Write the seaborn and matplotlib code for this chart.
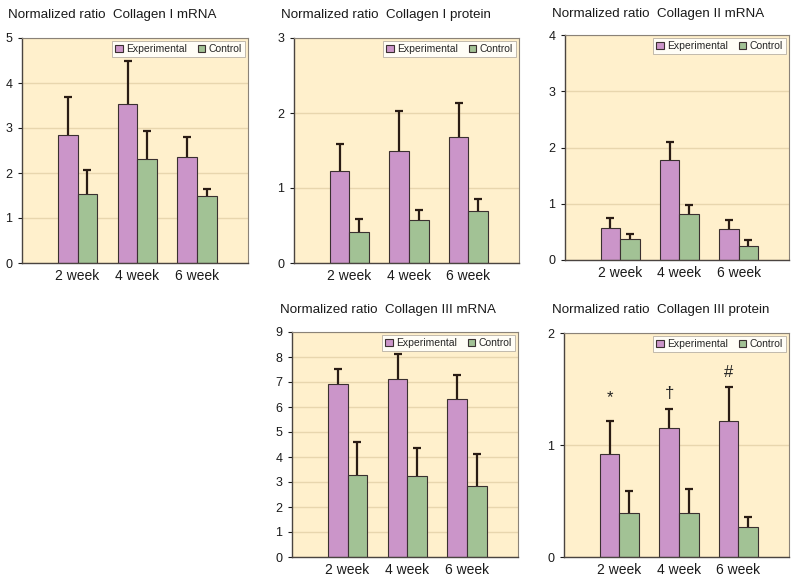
import matplotlib
matplotlib.use("Agg")
import matplotlib.pyplot as plt
import numpy as np
import pandas as pd
import seaborn as sns

# --- data (upper error bar = SD) ---
weeks = ["2 week", "4 week", "6 week"]
groups = ["Experimental", "Control"]

col1_mrna_exp = [2.84, 3.54, 2.35]
col1_mrna_exp_sd = [0.85, 0.94, 0.45]
col1_mrna_ctl = [1.54, 2.31, 1.48]
col1_mrna_ctl_sd = [0.52, 0.63, 0.16]

col1_prot_exp = [1.23, 1.50, 1.68]
col1_prot_exp_sd = [0.36, 0.53, 0.45]
col1_prot_ctl = [0.42, 0.57, 0.70]
col1_prot_ctl_sd = [0.17, 0.14, 0.15]

col2_mrna_exp = [0.57, 1.78, 0.55]
col2_mrna_exp_sd = [0.17, 0.32, 0.17]
col2_mrna_ctl = [0.38, 0.82, 0.25]
col2_mrna_ctl_sd = [0.09, 0.15, 0.10]

col3_mrna_exp = [6.93, 7.12, 6.33]
col3_mrna_exp_sd = [0.58, 0.99, 0.96]
col3_mrna_ctl = [3.29, 3.24, 2.83]
col3_mrna_ctl_sd = [1.30, 1.13, 1.30]

col3_prot_exp = [0.92, 1.15, 1.21]
col3_prot_exp_sd = [0.29, 0.17, 0.31]
col3_prot_ctl = [0.39, 0.39, 0.27]
col3_prot_ctl_sd = [0.20, 0.22, 0.09]

# significance marks over the Experimental bars of Collagen III protein
sig_marks = ["*", "\u2020", "#"]
sig_y = [1.36, 1.39, 1.58]

titles = [
    "Normalized ratio  Collagen I mRNA",
    "Normalized ratio  Collagen I protein",
    "Normalized ratio  Collagen II mRNA",
    "Normalized ratio  Collagen III mRNA",
    "Normalized ratio  Collagen III protein",
]
y_max = [5, 3, 4, 9, 2]

series = [
    (col1_mrna_exp, col1_mrna_exp_sd, col1_mrna_ctl, col1_mrna_ctl_sd),
    (col1_prot_exp, col1_prot_exp_sd, col1_prot_ctl, col1_prot_ctl_sd),
    (col2_mrna_exp, col2_mrna_exp_sd, col2_mrna_ctl, col2_mrna_ctl_sd),
    (col3_mrna_exp, col3_mrna_exp_sd, col3_mrna_ctl, col3_mrna_ctl_sd),
    (col3_prot_exp, col3_prot_exp_sd, col3_prot_ctl, col3_prot_ctl_sd),
]

# layout in pixels: axes (left, right, top, bottom) and title anchor (x, y)
W, H = 800, 583
axes_px = [
    (22, 248, 38, 263),
    (294, 519, 38, 263),
    (565, 789, 35, 260),
    (292, 518, 332, 557),
    (564, 789, 333, 557),
]
title_px = [(8, 15), (281, 15), (552, 14), (280, 310), (552, 310)]

BG = "#FFF0CC"
PURPLE = "#CB95C9"
GREEN = "#A2C295"
EDGE = "#3a3030"
ERR = "#2a1c14"

sns.set_style("white")
plt.rcParams["font.family"] = ["Liberation Sans", "DejaVu Sans"]

fig = plt.figure(figsize=(W / 100, H / 100), dpi=100)

for i, (exp, exp_sd, ctl, ctl_sd) in enumerate(series):
    l, r, t, b = axes_px[i]
    ax = fig.add_axes([l / W, 1 - b / H, (r - l) / W, (b - t) / H])
    ax.set_facecolor(BG)

    df = pd.DataFrame({
        "week": weeks * 2,
        "group": [groups[0]] * 3 + [groups[1]] * 3,
        "value": exp + ctl,
    })

    sns.barplot(
        data=df, x="week", y="value", hue="group", hue_order=groups,
        order=weeks, palette=[PURPLE, GREEN], width=0.66, errorbar=None,
        edgecolor=EDGE, linewidth=0.8, saturation=1, ax=ax, zorder=2,
    )

    # error bars (upper only) at the bar centres seaborn placed
    for cont, vals, sds in zip(ax.containers, [exp, ctl], [exp_sd, ctl_sd]):
        xs = [p.get_x() + p.get_width() / 2 for p in cont.patches]
        eb = ax.errorbar(
            xs, vals, yerr=[np.zeros(len(sds)), sds], fmt="none",
            ecolor=ERR, elinewidth=1.6, capsize=2.6, capthick=1.6, zorder=3,
        )
        # drop the cap sitting on the bar top
        eb[1][0].set_visible(False)
        if i == 4 and vals is exp:
            for k in range(3):
                ax.text(xs[k], sig_y[k], sig_marks[k], ha="center",
                        va="bottom", fontsize=12, color="#222222")

    ax.set_ylim(0, y_max[i])
    ax.set_yticks(range(0, y_max[i] + 1))
    ax.set_xlim(-0.93, 2.85)
    ax.yaxis.grid(True, color="#E8D6AE", linewidth=1, zorder=0)
    ax.set_axisbelow(True)
    ax.set_xlabel("")
    ax.set_ylabel("")

    for side in ["top", "right"]:
        ax.spines[side].set_color("#8a8278")
        ax.spines[side].set_linewidth(0.8)
    for side in ["left", "bottom"]:
        ax.spines[side].set_color("#4a4440")
        ax.spines[side].set_linewidth(1.0)

    ax.tick_params(axis="x", length=0, pad=4, labelsize=10, colors="#1a1a1a")
    ax.tick_params(axis="y", direction="out", length=3, width=0.8, pad=4,
                   labelsize=9, colors="#1a1a1a", left=True)

    sns.move_legend(
        ax, "upper right", bbox_to_anchor=(1, 1), ncol=2, title=None,
        fontsize=7.5, frameon=True, fancybox=False, framealpha=1,
        facecolor="#FFFDF6", edgecolor="#B8B0A4", borderaxespad=0.3,
        handlelength=0.75, handleheight=0.75, handletextpad=0.3,
        columnspacing=1.0, borderpad=0.3,
    )
    ax.get_legend().get_frame().set_linewidth(0.6)

    tx, ty = title_px[i]
    fig.text(tx / W, 1 - ty / H, titles[i], fontsize=9.6, ha="left",
             va="center", color="#1a1a1a")

fig.savefig("out.png", dpi=100, facecolor="white")
